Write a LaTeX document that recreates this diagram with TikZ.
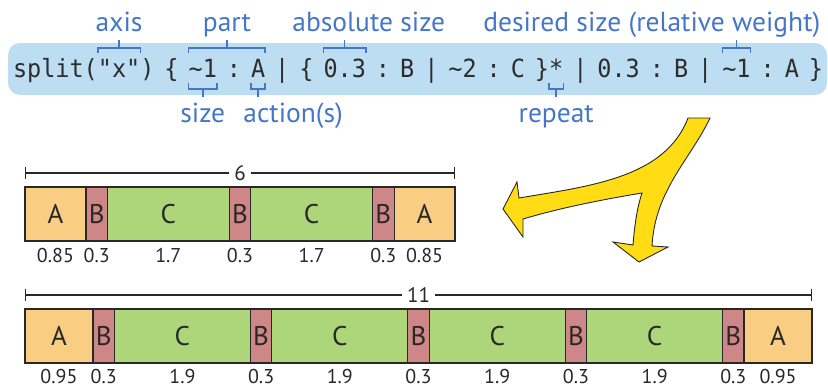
\documentclass[tikz,border=0pt]{standalone}
\usepackage{fontspec}
\setmainfont{PT Sans}
\newfontfamily\codefont[FakeStretch=0.94,Ligatures=TeXOff]{DejaVu Sans Mono}
\usetikzlibrary{calc,arrows.meta}
\definecolor{bgblue}{RGB}{189,221,242}
\definecolor{labblue}{RGB}{70,118,200}
\definecolor{codegray}{RGB}{45,45,45}
\definecolor{colA}{RGB}{249,205,130}
\definecolor{colB}{RGB}{207,134,134}
\definecolor{colC}{RGB}{172,214,121}
\definecolor{arrowyellow}{RGB}{255,220,20}
\definecolor{edge}{RGB}{40,40,40}
\newcommand\gap{\kern10pt\relax}
\newcommand\topbrk[2]{\draw[brk] (#1 |- 0,53) -- (#1 |- 0,48) -- (#2 |- 0,48) -- (#2 |- 0,53);}
\newcommand\botbrk[2]{\draw[brk] (#1 |- 0,83) -- (#1 |- 0,89) -- (#2 |- 0,89) -- (#2 |- 0,83);}
\begin{document}
\begin{tikzpicture}[x=1pt,y=-1pt,
  code/.style={font=\codefont\fontsize{25}{25}\selectfont, text=codegray, inner sep=0pt, outer sep=0pt, anchor=base west},
  brk/.style={draw=labblue, line width=1.5pt},
  lab/.style={font=\fontsize{27.5}{27.5}\selectfont, text=labblue, inner sep=0pt, anchor=base},
  seg/.style={draw=edge, line width=1.2pt, minimum height=54pt, inner sep=0pt, outer sep=0pt, anchor=west, font=\fontsize{27}{27}\selectfont, text=edge},
  num/.style={font=\fontsize{20}{20}\selectfont, text=edge, inner sep=0pt, anchor=base},
  dimlab/.style={font=\fontsize{21}{21}\selectfont, text=edge, inner xsep=5pt, inner ysep=0pt},
  dim/.style={draw=edge, line width=1.1pt, -{Bar[width=12pt, line width=1.1pt]}},
  hold/.style={inner sep=0pt, outer sep=0pt, minimum size=0pt}]
\useasboundingbox (0,0) rectangle (828,388);

% code line
\fill[bgblue, rounded corners=12pt] (8,43) rectangle (827,95);
\node[code] (c1) at (13,77) {split(};
\node[code] (c2) at (c1.base east) {"x"};
\node[code] (c3) at (c2.base east) {)\gap\{\gap};
\node[code] (c4) at (c3.base east) {\textasciitilde 1};
\node[code] (c5) at (c4.base east) {\gap:\gap};
\node[code] (c6) at (c5.base east) {A};
\node[code] (c7) at (c6.base east) {\gap|\gap\{\gap};
\node[code] (c8) at (c7.base east) {0.3};
\node[code] (c9) at (c8.base east) {\gap:\gap B\gap|\gap\textasciitilde 2\gap:\gap C\gap\}};
\node[code] (c10) at (c9.base east) {*};
\node[code] (c11) at (c10.base east) {\gap|\gap 0.3\gap:\gap B\gap|\gap};
\node[code] (c12) at (c11.base east) {\textasciitilde 1};
\node[code] (c13) at (c12.base east) {\gap:\gap A\gap\}};

% annotations
\coordinate (pm) at ($(c4.west)!0.5!(c6.east)$);
\topbrk{c2.west}{c2.east}
\draw[brk] (c2.north |- 0,48) -- (c2.north |- 0,40);
\node[lab] (laxis) at (c2.north |- 0,31) {axis};
\topbrk{c4.west}{c6.east}
\draw[brk] (pm |- 0,48) -- (pm |- 0,40);
\node[lab] (lpart) at (pm |- 0,31) {part};
\topbrk{c8.west}{c8.east}
\draw[brk] (c8.north |- 0,48) -- (c8.north |- 0,40);
\node[lab] (labs) at ($(c8.north |- 0,31)+(24,0)$) {absolute size};
\topbrk{c12.west}{c12.east}
\draw[brk] (c12.north |- 0,48) -- (c12.north |- 0,40);
\node[lab, anchor=base east] (ldes) at ($(c12.north |- 0,31)+(84,0)$) {desired size (relative weight)};
\botbrk{c4.west}{c4.east}
\draw[brk] (c4.south |- 0,89) -- (c4.south |- 0,97);
\node[lab] (lsize) at (c4.south |- 0,122) {size};
\botbrk{c6.west}{c6.east}
\draw[brk] (c6.south |- 0,89) -- (c6.south |- 0,97);
\node[lab] (lact) at ($(c6.south |- 0,122)+(35,0)$) {action(s)};
\botbrk{c10.west}{c10.east}
\draw[brk] (c10.south |- 0,89) -- (c10.south |- 0,97);
\node[lab] (lrep) at (c10.south |- 0,122) {repeat};

% yellow forked arrow
\draw[draw=edge, line width=0.9pt, fill=arrowyellow, line join=miter]
  (688,118) -- (710,118)
  .. controls (690,160) and (655,190) .. (652,246)
  -- (668,247) -- (639,262) -- (613,242) -- (633,245)
  .. controls (635,220) and (638,205) .. (642,193)
  .. controls (600,200) and (560,208) .. (523,219)
  -- (523,237) -- (503,209) -- (517,182) -- (519,198)
  .. controls (590,186) and (665,178) .. (688,118) -- cycle;

% bar of width 6
\node[hold] (p0) at (25,214) {};
\foreach \w/\t [count=\i, remember=\i as \j (initially 0)] in
  {0.85/A,0.3/B,1.7/C,0.3/B,1.7/C,0.3/B,0.85/A}{
  \node[seg, fill=col\t, minimum width=\w*71.67pt] (p\i) at (p\j.east) {\t};
  \node[num] (pn\i) at ($(p\i.south)+(0,21)$) {\w};
}
\draw[edge, line width=2pt] (p1.north west) rectangle (p7.south east);
\node[dimlab] (d1) at (240,173) {6};
\coordinate (d1l) at (25,173);
\coordinate (d1r) at (455,173);
\draw[dim] (d1.west) -- (d1l);
\draw[dim] (d1.east) -- (d1r);

% bar of width 11
\node[hold] (q0) at (25,336) {};
\foreach \w/\t [count=\i, remember=\i as \j (initially 0)] in
  {0.95/A,0.3/B,1.9/C,0.3/B,1.9/C,0.3/B,1.9/C,0.3/B,1.9/C,0.3/B,0.95/A}{
  \node[seg, fill=col\t, minimum width=\w*71.55pt] (q\i) at (q\j.east) {\t};
  \node[num] (qn\i) at ($(q\i.south)+(0,20)$) {\w};
}
\draw[edge, line width=2pt] (q1.north west) rectangle (q11.south east);
\node[dimlab] (d2) at (418.5,295) {11};
\coordinate (d2l) at (25,295);
\coordinate (d2r) at (812,295);
\draw[dim] (d2.west) -- (d2l);
\draw[dim] (d2.east) -- (d2r);
\end{tikzpicture}
\end{document}
